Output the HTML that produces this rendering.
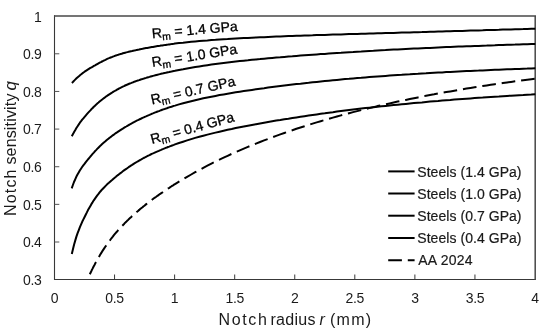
<!DOCTYPE html>
<html><head><meta charset="utf-8"><title>Notch sensitivity</title>
<style>
html,body{margin:0;padding:0;background:#fff;}
svg{display:block;}
text{font-family:"Liberation Sans", sans-serif;fill:#1a1a1a;}
.tk{font-size:14px;letter-spacing:-0.3px;}
.ax{font-size:16px;}
.lb{font-size:14px;fill:#000;stroke:#000;stroke-width:0.3px;}
.lg{font-size:14px;stroke:#1a1a1a;stroke-width:0.2px;}
.cv{fill:none;stroke:#000;stroke-width:2;stroke-linejoin:round;}
</style></head><body>
<svg width="550" height="335" viewBox="0 0 550 335">
<rect width="550" height="335" fill="#fff"/>

<g stroke="#383838" stroke-width="1" fill="none">
<path d="M54.5 15.2 L54.5 280 M54 279.5 L536 279.5" stroke-width="1.1"/>
<path d="M535.2 15.2 L535.2 280 M54 16 L536 16" stroke-width="1.5" stroke="#484848"/>
<path d="M54.5 53.79 L59.3 53.79" stroke="#555"/>
<path d="M54.5 91.44 L59.3 91.44" stroke="#555"/>
<path d="M54.5 129.08 L59.3 129.08" stroke="#555"/>
<path d="M54.5 166.72 L59.3 166.72" stroke="#555"/>
<path d="M54.5 204.36 L59.3 204.36" stroke="#555"/>
<path d="M54.5 242.01 L59.3 242.01" stroke="#555"/>
<path d="M114.56 279.5 L114.56 274.5"/>
<path d="M174.62 279.5 L174.62 274.5"/>
<path d="M234.69 279.5 L234.69 274.5"/>
<path d="M294.75 279.5 L294.75 274.5"/>
<path d="M354.81 279.5 L354.81 274.5"/>
<path d="M414.88 279.5 L414.88 274.5"/>
<path d="M474.94 279.5 L474.94 274.5"/>
</g>
<text class="tk" x="41.5" y="21.50" text-anchor="end">1</text>
<text class="tk" x="41.5" y="59.14" text-anchor="end">0.9</text>
<text class="tk" x="41.5" y="96.79" text-anchor="end">0.8</text>
<text class="tk" x="41.5" y="134.43" text-anchor="end">0.7</text>
<text class="tk" x="41.5" y="172.07" text-anchor="end">0.6</text>
<text class="tk" x="41.5" y="209.71" text-anchor="end">0.5</text>
<text class="tk" x="41.5" y="247.36" text-anchor="end">0.4</text>
<text class="tk" x="41.5" y="285.00" text-anchor="end">0.3</text>
<text class="tk" x="54.50" y="303.2" text-anchor="middle">0</text>
<text class="tk" x="114.56" y="303.2" text-anchor="middle">0.5</text>
<text class="tk" x="174.62" y="303.2" text-anchor="middle">1</text>
<text class="tk" x="234.69" y="303.2" text-anchor="middle">1.5</text>
<text class="tk" x="294.75" y="303.2" text-anchor="middle">2</text>
<text class="tk" x="354.81" y="303.2" text-anchor="middle">2.5</text>
<text class="tk" x="414.88" y="303.2" text-anchor="middle">3</text>
<text class="tk" x="474.94" y="303.2" text-anchor="middle">3.5</text>
<text class="tk" x="535.00" y="303.2" text-anchor="middle">4</text>
<text class="ax" y="324.9"><tspan x="218.6" letter-spacing="1.6">Notch</tspan> <tspan x="270.5" letter-spacing="0.28">radius</tspan> <tspan x="319.6" font-style="italic">r</tspan> <tspan x="329.9" letter-spacing="1.3">(mm)</tspan></text>
<text class="ax" transform="translate(16.4 215.9) rotate(-90)"><tspan x="0" letter-spacing="1.15">Notch</tspan> <tspan x="51.3" letter-spacing="0.17">sensitivity</tspan> <tspan x="125.4" font-size="17px" font-style="italic">q</tspan></text>
<path class="cv" d="M71.9 82.9 L73.1 81.8 L74.2 80.6 L75.4 79.4 L76.5 78.3 L77.7 77.2 L78.9 76.2 L80.0 75.2 L81.2 74.3 L82.3 73.4 L83.5 72.5 L84.6 71.7 L85.8 70.9 L87.0 70.1 L88.1 69.4 L89.3 68.6 L90.4 67.9 L91.6 67.3 L92.8 66.6 L93.9 65.9 L95.1 65.3 L96.2 64.6 L97.4 64.0 L98.5 63.4 L99.7 62.7 L100.9 62.1 L102.0 61.5 L103.2 60.9 L104.3 60.3 L105.5 59.8 L106.7 59.2 L107.8 58.7 L109.0 58.2 L110.1 57.7 L111.3 57.3 L112.4 56.8 L113.6 56.4 L114.8 55.9 L115.9 55.5 L117.1 55.1 L118.2 54.8 L119.4 54.4 L120.6 54.0 L121.7 53.7 L122.9 53.3 L124.0 53.0 L125.2 52.7 L126.3 52.4 L127.5 52.1 L128.7 51.8 L129.8 51.5 L131.0 51.2 L132.1 51.0 L133.3 50.7 L134.5 50.4 L135.6 50.2 L136.8 49.9 L137.9 49.7 L139.1 49.5 L140.2 49.2 L141.4 49.0 L142.6 48.8 L143.7 48.5 L144.9 48.3 L146.0 48.1 L147.2 47.9 L148.4 47.7 L149.5 47.5 L150.7 47.3 L151.8 47.1 L153.0 46.9 L154.1 46.7 L155.3 46.5 L156.5 46.3 L157.6 46.1 L158.8 45.9 L159.9 45.8 L161.1 45.6 L162.3 45.4 L163.4 45.2 L164.6 45.1 L165.7 44.9 L166.9 44.7 L168.0 44.6 L169.2 44.4 L170.4 44.2 L171.5 44.1 L172.7 43.9 L173.8 43.8 L175.0 43.6 L179.0 43.1 L183.1 42.7 L187.1 42.2 L191.2 41.8 L195.2 41.4 L199.3 41.0 L203.3 40.7 L207.4 40.4 L211.4 40.0 L215.5 39.8 L219.5 39.5 L223.6 39.2 L227.6 39.0 L231.7 38.7 L235.7 38.5 L239.8 38.3 L243.8 38.1 L247.9 37.9 L251.9 37.7 L256.0 37.5 L260.0 37.3 L264.1 37.2 L268.1 37.0 L272.2 36.8 L276.2 36.6 L280.3 36.5 L284.3 36.3 L288.4 36.1 L292.4 36.0 L296.4 35.8 L300.5 35.7 L304.5 35.5 L308.6 35.4 L312.6 35.3 L316.7 35.1 L320.7 35.0 L324.8 34.9 L328.8 34.7 L332.9 34.6 L336.9 34.5 L341.0 34.4 L345.0 34.2 L349.1 34.1 L353.1 34.0 L357.2 33.9 L361.2 33.8 L365.3 33.7 L369.3 33.5 L373.4 33.4 L377.4 33.3 L381.5 33.2 L385.5 33.1 L389.6 33.0 L393.6 32.9 L397.7 32.7 L401.7 32.6 L405.8 32.5 L409.8 32.4 L413.9 32.3 L417.9 32.2 L421.9 32.1 L426.0 31.9 L430.0 31.8 L434.1 31.7 L438.1 31.6 L442.2 31.5 L446.2 31.3 L450.3 31.2 L454.3 31.1 L458.4 31.0 L462.4 30.9 L466.5 30.7 L470.5 30.6 L474.6 30.5 L478.6 30.4 L482.7 30.3 L486.7 30.1 L490.8 30.0 L494.8 29.9 L498.9 29.8 L502.9 29.6 L507.0 29.5 L511.0 29.4 L515.1 29.3 L519.1 29.2 L523.2 29.1 L527.2 28.9 L531.3 28.8 L535.3 28.7"/>
<path class="cv" d="M71.8 136.2 L73.0 134.1 L74.1 132.0 L75.3 130.0 L76.4 128.0 L77.6 126.2 L78.8 124.4 L79.9 122.7 L81.1 121.2 L82.2 119.7 L83.4 118.3 L84.6 116.9 L85.7 115.6 L86.9 114.2 L88.0 112.9 L89.2 111.6 L90.4 110.4 L91.5 109.1 L92.7 108.0 L93.8 106.8 L95.0 105.7 L96.2 104.6 L97.3 103.5 L98.5 102.5 L99.6 101.5 L100.8 100.6 L101.9 99.7 L103.1 98.8 L104.3 97.9 L105.4 97.0 L106.6 96.2 L107.7 95.4 L108.9 94.6 L110.1 93.8 L111.2 93.1 L112.4 92.4 L113.5 91.7 L114.7 91.0 L115.9 90.3 L117.0 89.6 L118.2 89.0 L119.3 88.4 L120.5 87.8 L121.7 87.2 L122.8 86.6 L124.0 86.1 L125.1 85.5 L126.3 85.0 L127.5 84.5 L128.6 84.0 L129.8 83.5 L130.9 83.1 L132.1 82.6 L133.3 82.2 L134.4 81.7 L135.6 81.3 L136.7 80.9 L137.9 80.5 L139.1 80.1 L140.2 79.7 L141.4 79.3 L142.5 79.0 L143.7 78.6 L144.9 78.2 L146.0 77.9 L147.2 77.5 L148.3 77.2 L149.5 76.9 L150.6 76.5 L151.8 76.2 L153.0 75.9 L154.1 75.6 L155.3 75.3 L156.4 75.0 L157.6 74.7 L158.8 74.4 L159.9 74.1 L161.1 73.8 L162.2 73.6 L163.4 73.3 L164.6 73.0 L165.7 72.8 L166.9 72.5 L168.0 72.2 L169.2 72.0 L170.4 71.7 L171.5 71.5 L172.7 71.2 L173.8 71.0 L175.0 70.8 L179.0 69.9 L183.1 69.2 L187.1 68.4 L191.2 67.7 L195.2 67.0 L199.3 66.4 L203.3 65.8 L207.4 65.2 L211.4 64.6 L215.5 64.0 L219.5 63.5 L223.6 63.0 L227.6 62.5 L231.7 62.0 L235.7 61.6 L239.8 61.1 L243.8 60.7 L247.9 60.3 L251.9 59.8 L256.0 59.4 L260.0 59.1 L264.1 58.7 L268.1 58.3 L272.2 57.9 L276.2 57.6 L280.3 57.3 L284.3 56.9 L288.4 56.6 L292.4 56.3 L296.4 55.9 L300.5 55.6 L304.5 55.3 L308.6 55.0 L312.6 54.7 L316.7 54.4 L320.7 54.1 L324.8 53.9 L328.8 53.6 L332.9 53.3 L336.9 53.0 L341.0 52.8 L345.0 52.5 L349.1 52.2 L353.1 52.0 L357.2 51.7 L361.2 51.5 L365.3 51.2 L369.3 51.0 L373.4 50.8 L377.4 50.5 L381.5 50.3 L385.5 50.1 L389.6 49.8 L393.6 49.6 L397.7 49.4 L401.7 49.2 L405.8 49.0 L409.8 48.8 L413.9 48.6 L417.9 48.4 L421.9 48.2 L426.0 48.0 L430.0 47.9 L434.1 47.7 L438.1 47.5 L442.2 47.3 L446.2 47.1 L450.3 47.0 L454.3 46.8 L458.4 46.6 L462.4 46.5 L466.5 46.3 L470.5 46.2 L474.6 46.0 L478.6 45.9 L482.7 45.7 L486.7 45.6 L490.8 45.4 L494.8 45.3 L498.9 45.1 L502.9 45.0 L507.0 44.8 L511.0 44.7 L515.1 44.6 L519.1 44.4 L523.2 44.3 L527.2 44.2 L531.3 44.0 L535.3 43.9"/>
<path class="cv" d="M71.7 188.3 L72.9 185.0 L74.0 182.0 L75.2 179.3 L76.3 176.8 L77.5 174.5 L78.7 172.4 L79.8 170.5 L81.0 168.7 L82.1 167.0 L83.3 165.4 L84.5 163.9 L85.6 162.4 L86.8 160.9 L87.9 159.5 L89.1 158.1 L90.3 156.7 L91.4 155.3 L92.6 153.9 L93.8 152.6 L94.9 151.3 L96.1 150.1 L97.2 148.9 L98.4 147.7 L99.6 146.5 L100.7 145.4 L101.9 144.3 L103.0 143.3 L104.2 142.3 L105.4 141.3 L106.5 140.3 L107.7 139.3 L108.8 138.4 L110.0 137.5 L111.2 136.6 L112.3 135.7 L113.5 134.9 L114.6 134.0 L115.8 133.2 L117.0 132.4 L118.1 131.6 L119.3 130.8 L120.4 130.1 L121.6 129.3 L122.8 128.6 L123.9 127.9 L125.1 127.2 L126.3 126.5 L127.4 125.8 L128.6 125.1 L129.7 124.5 L130.9 123.8 L132.1 123.2 L133.2 122.5 L134.4 121.9 L135.5 121.3 L136.7 120.7 L137.9 120.2 L139.0 119.6 L140.2 119.0 L141.3 118.5 L142.5 117.9 L143.7 117.4 L144.8 116.8 L146.0 116.3 L147.1 115.8 L148.3 115.3 L149.5 114.8 L150.6 114.3 L151.8 113.8 L152.9 113.4 L154.1 112.9 L155.3 112.4 L156.4 112.0 L157.6 111.5 L158.8 111.1 L159.9 110.7 L161.1 110.2 L162.2 109.8 L163.4 109.4 L164.6 109.0 L165.7 108.6 L166.9 108.2 L168.0 107.8 L169.2 107.4 L170.4 107.0 L171.5 106.7 L172.7 106.3 L173.8 105.9 L175.0 105.6 L179.0 104.4 L183.1 103.3 L187.1 102.2 L191.2 101.2 L195.2 100.2 L199.3 99.2 L203.3 98.3 L207.4 97.5 L211.4 96.7 L215.5 95.9 L219.5 95.1 L223.6 94.4 L227.6 93.7 L231.7 93.0 L235.7 92.3 L239.8 91.7 L243.8 91.1 L247.9 90.5 L251.9 89.9 L256.0 89.3 L260.0 88.7 L264.1 88.2 L268.1 87.6 L272.2 87.1 L276.2 86.6 L280.3 86.1 L284.3 85.6 L288.4 85.1 L292.4 84.6 L296.4 84.1 L300.5 83.7 L304.5 83.2 L308.6 82.8 L312.6 82.3 L316.7 81.9 L320.7 81.5 L324.8 81.1 L328.8 80.7 L332.9 80.3 L336.9 79.9 L341.0 79.5 L345.0 79.1 L349.1 78.8 L353.1 78.4 L357.2 78.1 L361.2 77.8 L365.3 77.4 L369.3 77.1 L373.4 76.8 L377.4 76.5 L381.5 76.2 L385.5 75.9 L389.6 75.6 L393.6 75.3 L397.7 75.0 L401.7 74.8 L405.8 74.5 L409.8 74.3 L413.9 74.0 L417.9 73.8 L421.9 73.5 L426.0 73.3 L430.0 73.0 L434.1 72.8 L438.1 72.6 L442.2 72.4 L446.2 72.1 L450.3 71.9 L454.3 71.7 L458.4 71.5 L462.4 71.3 L466.5 71.1 L470.5 70.9 L474.6 70.7 L478.6 70.6 L482.7 70.4 L486.7 70.2 L490.8 70.0 L494.8 69.8 L498.9 69.7 L502.9 69.5 L507.0 69.3 L511.0 69.2 L515.1 69.0 L519.1 68.9 L523.2 68.7 L527.2 68.6 L531.3 68.4 L535.3 68.3"/>
<path class="cv" d="M71.8 253.9 L73.0 249.0 L74.1 244.5 L75.3 240.4 L76.4 236.6 L77.6 233.2 L78.8 230.1 L79.9 227.1 L81.1 224.4 L82.2 221.8 L83.4 219.4 L84.6 217.0 L85.7 214.7 L86.9 212.4 L88.0 210.1 L89.2 208.0 L90.4 205.9 L91.5 203.9 L92.7 202.1 L93.8 200.3 L95.0 198.6 L96.2 196.9 L97.3 195.4 L98.5 193.9 L99.6 192.4 L100.8 191.0 L101.9 189.7 L103.1 188.5 L104.3 187.3 L105.4 186.1 L106.6 184.9 L107.7 183.8 L108.9 182.8 L110.1 181.7 L111.2 180.7 L112.4 179.7 L113.5 178.7 L114.7 177.7 L115.9 176.8 L117.0 175.8 L118.2 174.9 L119.3 174.0 L120.5 173.1 L121.7 172.2 L122.8 171.3 L124.0 170.4 L125.1 169.6 L126.3 168.8 L127.5 168.0 L128.6 167.2 L129.8 166.4 L130.9 165.6 L132.1 164.9 L133.3 164.1 L134.4 163.4 L135.6 162.7 L136.7 162.0 L137.9 161.3 L139.1 160.6 L140.2 160.0 L141.4 159.3 L142.5 158.7 L143.7 158.0 L144.9 157.4 L146.0 156.8 L147.2 156.2 L148.3 155.6 L149.5 155.1 L150.6 154.5 L151.8 153.9 L153.0 153.4 L154.1 152.9 L155.3 152.3 L156.4 151.8 L157.6 151.3 L158.8 150.8 L159.9 150.3 L161.1 149.8 L162.2 149.3 L163.4 148.9 L164.6 148.4 L165.7 147.9 L166.9 147.5 L168.0 147.0 L169.2 146.6 L170.4 146.1 L171.5 145.7 L172.7 145.3 L173.8 144.9 L175.0 144.4 L179.0 143.0 L183.1 141.7 L187.1 140.4 L191.2 139.1 L195.2 137.9 L199.3 136.8 L203.3 135.7 L207.4 134.6 L211.4 133.6 L215.5 132.6 L219.5 131.7 L223.6 130.7 L227.6 129.8 L231.7 129.0 L235.7 128.1 L239.8 127.3 L243.8 126.5 L247.9 125.7 L251.9 124.9 L256.0 124.2 L260.0 123.5 L264.1 122.7 L268.1 122.0 L272.2 121.3 L276.2 120.6 L280.3 120.0 L284.3 119.3 L288.4 118.7 L292.4 118.0 L296.4 117.4 L300.5 116.8 L304.5 116.2 L308.6 115.6 L312.6 115.0 L316.7 114.4 L320.7 113.8 L324.8 113.3 L328.8 112.7 L332.9 112.2 L336.9 111.6 L341.0 111.1 L345.0 110.6 L349.1 110.1 L353.1 109.6 L357.2 109.1 L361.2 108.6 L365.3 108.1 L369.3 107.7 L373.4 107.2 L377.4 106.8 L381.5 106.3 L385.5 105.9 L389.6 105.5 L393.6 105.1 L397.7 104.7 L401.7 104.3 L405.8 103.9 L409.8 103.5 L413.9 103.1 L417.9 102.7 L421.9 102.4 L426.0 102.0 L430.0 101.6 L434.1 101.3 L438.1 101.0 L442.2 100.6 L446.2 100.3 L450.3 100.0 L454.3 99.6 L458.4 99.3 L462.4 99.0 L466.5 98.7 L470.5 98.4 L474.6 98.1 L478.6 97.8 L482.7 97.6 L486.7 97.3 L490.8 97.0 L494.8 96.7 L498.9 96.5 L502.9 96.2 L507.0 95.9 L511.0 95.7 L515.1 95.4 L519.1 95.2 L523.2 95.0 L527.2 94.7 L531.3 94.5 L535.3 94.2"/>
<path class="cv" stroke-dasharray="13.7 5.9" d="M89.8 274.3 L90.8 272.3 L91.7 270.3 L92.7 268.4 L93.6 266.5 L94.6 264.7 L95.5 262.9 L96.5 261.1 L97.5 259.4 L98.4 257.7 L99.4 256.1 L100.3 254.5 L101.3 252.9 L102.2 251.4 L103.2 249.9 L104.2 248.4 L105.1 247.0 L106.1 245.6 L107.0 244.2 L108.0 242.9 L108.9 241.5 L109.9 240.3 L110.9 239.0 L111.8 237.8 L112.8 236.6 L113.7 235.4 L114.7 234.2 L115.6 233.1 L116.6 232.0 L117.6 230.9 L118.5 229.8 L119.5 228.8 L120.4 227.7 L121.4 226.7 L122.3 225.7 L123.3 224.7 L124.3 223.7 L125.2 222.7 L126.2 221.8 L127.1 220.8 L128.1 219.9 L129.0 219.0 L130.0 218.1 L131.0 217.2 L131.9 216.3 L132.9 215.4 L133.8 214.6 L134.8 213.7 L135.8 212.9 L136.7 212.0 L137.7 211.2 L138.6 210.4 L139.6 209.6 L140.5 208.8 L141.5 208.0 L142.5 207.2 L143.4 206.4 L144.4 205.7 L145.3 204.9 L146.3 204.1 L147.2 203.4 L148.2 202.7 L149.2 201.9 L150.1 201.2 L151.1 200.5 L152.0 199.8 L153.0 199.0 L153.9 198.3 L154.9 197.6 L155.9 197.0 L156.8 196.3 L157.8 195.6 L158.7 194.9 L159.7 194.2 L160.6 193.6 L161.6 192.9 L162.6 192.3 L163.5 191.6 L164.5 191.0 L165.4 190.3 L166.4 189.7 L167.3 189.0 L168.3 188.4 L169.3 187.8 L170.2 187.2 L171.2 186.5 L172.1 185.9 L173.1 185.3 L174.0 184.7 L175.0 184.1 L179.0 181.6 L183.1 179.2 L187.1 176.8 L191.2 174.5 L195.2 172.2 L199.3 170.0 L203.3 167.8 L207.4 165.7 L211.4 163.6 L215.5 161.6 L219.5 159.6 L223.6 157.7 L227.6 155.8 L231.7 153.9 L235.7 152.1 L239.8 150.3 L243.8 148.6 L247.9 146.9 L251.9 145.2 L256.0 143.6 L260.0 142.0 L264.1 140.4 L268.1 138.9 L272.2 137.4 L276.2 135.9 L280.3 134.4 L284.3 133.0 L288.4 131.6 L292.4 130.2 L296.4 128.8 L300.5 127.5 L304.5 126.2 L308.6 124.9 L312.6 123.6 L316.7 122.4 L320.7 121.2 L324.8 120.0 L328.8 118.8 L332.9 117.6 L336.9 116.5 L341.0 115.4 L345.0 114.3 L349.1 113.2 L353.1 112.1 L357.2 111.1 L361.2 110.1 L365.3 109.1 L369.3 108.1 L373.4 107.1 L377.4 106.1 L381.5 105.2 L385.5 104.3 L389.6 103.4 L393.6 102.5 L397.7 101.6 L401.7 100.7 L405.8 99.9 L409.8 99.0 L413.9 98.2 L417.9 97.4 L421.9 96.6 L426.0 95.8 L430.0 95.0 L434.1 94.3 L438.1 93.5 L442.2 92.8 L446.2 92.1 L450.3 91.4 L454.3 90.7 L458.4 90.0 L462.4 89.3 L466.5 88.6 L470.5 88.0 L474.6 87.3 L478.6 86.7 L482.7 86.0 L486.7 85.4 L490.8 84.8 L494.8 84.2 L498.9 83.6 L502.9 83.0 L507.0 82.4 L511.0 81.9 L515.1 81.3 L519.1 80.8 L523.2 80.2 L527.2 79.7 L531.3 79.2 L535.3 78.7"/>
<text class="lb" transform="translate(152.20 38.18) rotate(-4.86)">R<tspan font-size="10.4px" dy="3">m</tspan><tspan dy="-3"> = 1.4 GPa</tspan></text>
<text class="lb" transform="translate(152.61 67.06) rotate(-8.98)">R<tspan font-size="10.4px" dy="3">m</tspan><tspan dy="-3"> = 1.0 GPa</tspan></text>
<text class="lb" transform="translate(152.02 104.62) rotate(-12.78)">R<tspan font-size="10.4px" dy="3">m</tspan><tspan dy="-3"> = 0.7 GPa</tspan></text>
<text class="lb" transform="translate(152.04 143.97) rotate(-15.38)">R<tspan font-size="10.4px" dy="3">m</tspan><tspan dy="-3"> = 0.4 GPa</tspan></text>
<path class="cv" d="M388.2 171.4 L414.6 171.4"/>
<text class="lg" x="417.3" y="176.60" letter-spacing="0.05">Steels (1.4 GPa)</text>
<path class="cv" d="M388.2 193.5 L414.6 193.5"/>
<text class="lg" x="417.3" y="198.70" letter-spacing="0.05">Steels (1.0 GPa)</text>
<path class="cv" d="M388.2 215.7 L414.6 215.7"/>
<text class="lg" x="417.3" y="220.90" letter-spacing="0.05">Steels (0.7 GPa)</text>
<path class="cv" d="M388.2 238 L414.6 238"/>
<text class="lg" x="417.3" y="243.20" letter-spacing="0.05">Steels (0.4 GPa)</text>
<path class="cv" stroke-dasharray="13.7 5.9" d="M388.2 260.2 L414.6 260.2"/>
<text class="lg" x="418.3" y="265.40" letter-spacing="0.2">AA 2024</text>
</svg></body></html>
